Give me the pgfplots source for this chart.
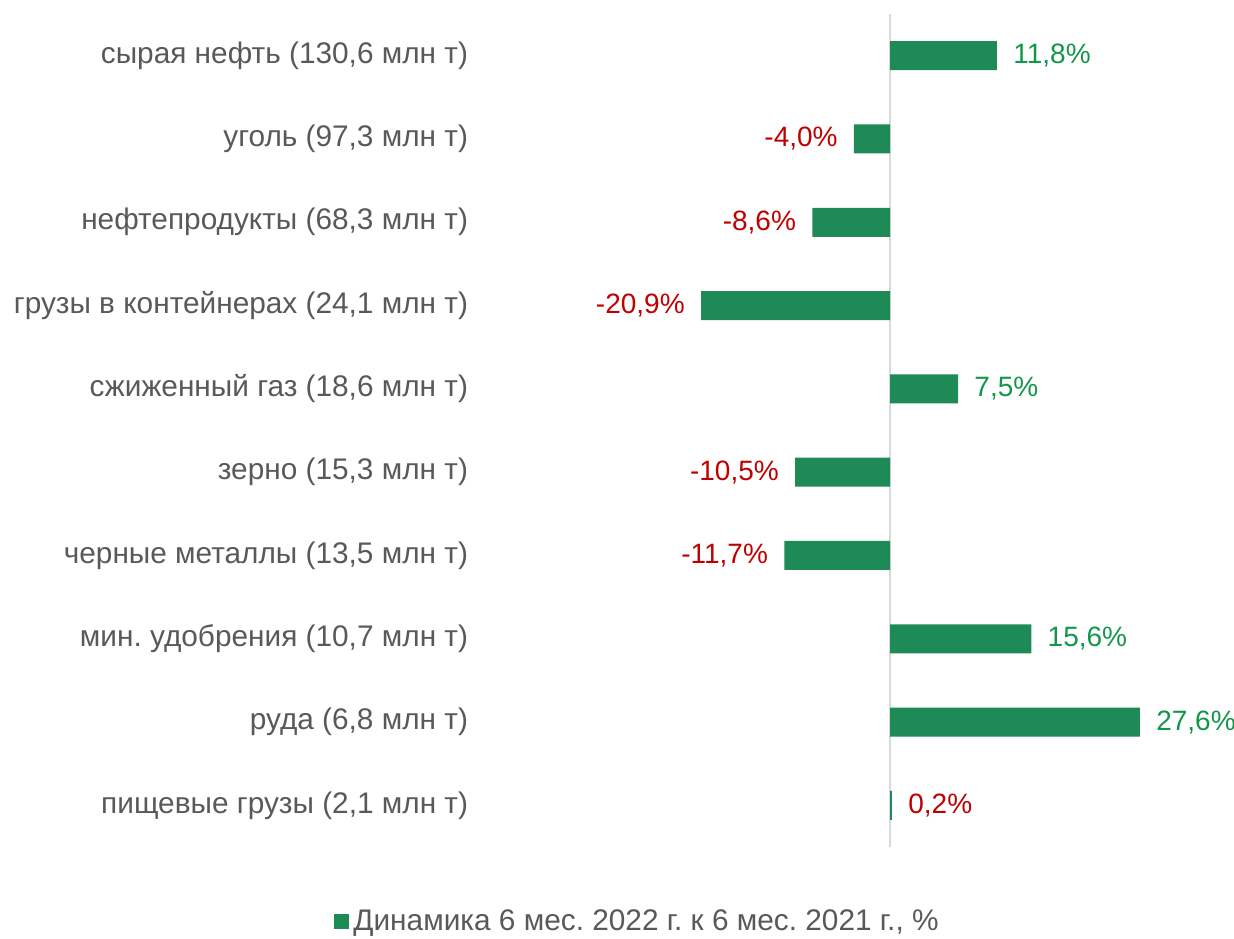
\documentclass[border=0pt]{standalone}
\usepackage{pgfplots}
\pgfplotsset{compat=1.18}
\usepackage{fontspec}
\setmainfont{Liberation Sans}
\frenchspacing
\definecolor{bargreen}{HTML}{1E8A55}
\definecolor{lblgreen}{HTML}{13964A}
\definecolor{lblred}{HTML}{C00000}
\definecolor{txtgray}{HTML}{595959}
\definecolor{axgray}{HTML}{D9D9D9}
\begin{document}
\begin{tikzpicture}[font=\fontsize{14}{16}\selectfont]
\useasboundingbox (0,0) rectangle (617pt,469pt);
\begin{axis}[at={(241.5pt,45.5pt)},anchor=south west,scale only axis,width=375.5pt,height=416.5pt,
  xbar,bar width=14.5pt,bar shift=0pt,
  xmin=-45,xmax=38,ymin=-0.5,ymax=9.5,y dir=reverse,
  clip=false,
  hide x axis,
  y axis line style={draw=none},
  ytick style={draw=none},
  ytick={0,...,9},
  yticklabels={сырая нефть (130{,}6 млн т),уголь (97{,}3 млн т),нефтепродукты (68{,}3 млн т),грузы в контейнерах (24{,}1 млн т),сжиженный газ (18{,}6 млн т),зерно (15{,}3 млн т),черные металлы (13{,}5 млн т),мин. удобрения (10{,}7 млн т),руда (6{,}8 млн т),пищевые грузы (2{,}1 млн т)},
  yticklabel style={text=txtgray,inner xsep=0pt,xshift=-3pt,font=\fontsize{14.9}{17}\selectfont},
  /pgf/number format/.cd,fixed,fixed zerofill,precision=1,use comma,assume math mode=true,
  /pgfplots/.cd,
  nodes near coords={\pgfmathprintnumber{\pgfplotspointmeta}\%},
  every node near coord/.append style={inner xsep=8pt},
  legend style={at={(0.207,-0.09)},anchor=center,draw=none,fill=none,text=txtgray,
    font=\fontsize{14.9}{17}\selectfont,
    legend cell align=left,/tikz/every even column/.append style={column sep=2pt}},
  legend image code/.code={\fill[bargreen] (0pt,-3.75pt) rectangle (7.5pt,3.75pt);},
]
\draw[axgray,line width=1.2pt] (axis cs:0,-0.5) -- (axis cs:0,9.5);
\addplot[fill=bargreen,draw=none,every node near coord/.append style={text=lblgreen}]
  coordinates {(11.8,0) (7.5,4) (15.6,7) (27.6,8)};
\addlegendentry{Динамика 6 мес. 2022 г. к 6 мес. 2021 г., \%}
\addplot[fill=bargreen,draw=none,forget plot,every node near coord/.append style={text=lblred}]
  coordinates {(-4.0,1) (-8.6,2) (-20.9,3) (-10.5,5) (-11.7,6) (0.2,9)};
\end{axis}
\end{tikzpicture}
\end{document}
